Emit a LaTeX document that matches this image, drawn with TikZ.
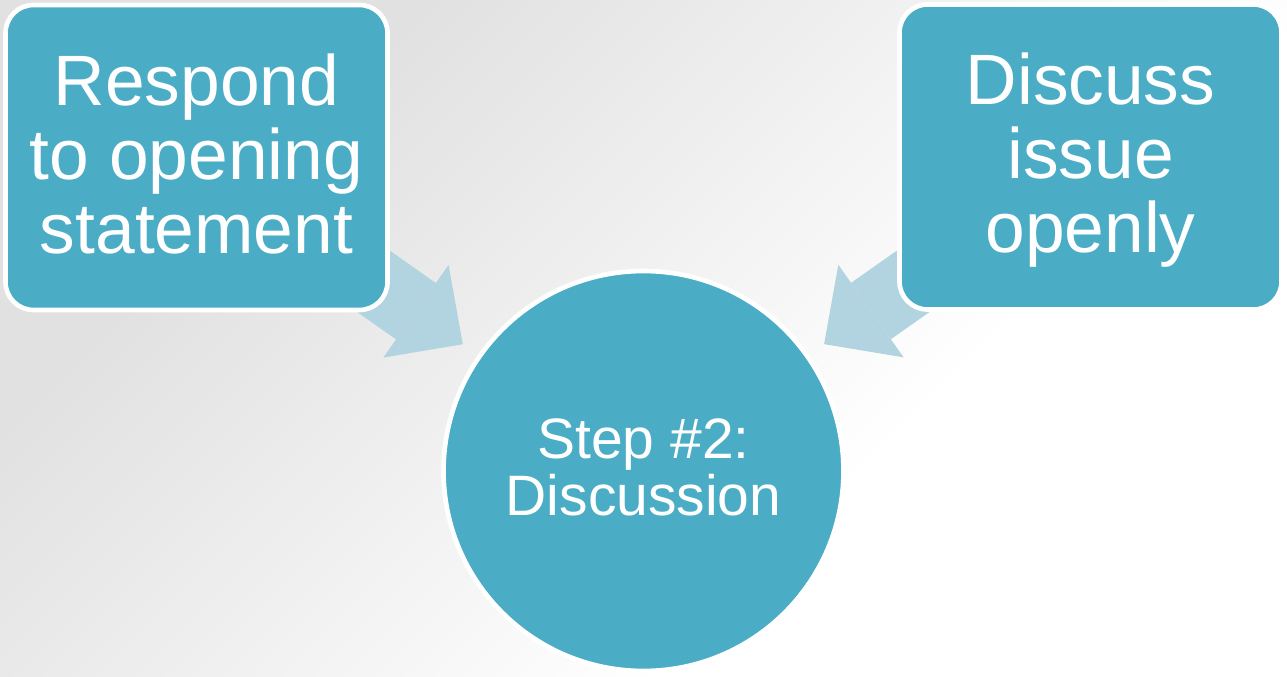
\documentclass[tikz,border=0pt]{standalone}
\usepackage{fontspec}
\setmainfont{Liberation Sans}
\usepackage{tikz}
\usetikzlibrary{shapes,arrows.meta}
\usepackage{xcolor}
\definecolor{boxblue}{RGB}{75,172,198}
\definecolor{arrowblue}{RGB}{177,212,224}
\definecolor{bggray}{RGB}{225,225,225}
\pgfdeclarehorizontalshading{bgfade}{100bp}{color(0bp)=(bggray); color(36bp)=(bggray); color(59bp)=(white); color(100bp)=(white)}
\tikzstyle{box} = [rectangle, draw=white, line width=3.5pt, fill=boxblue, text=white,
    rounded corners=21pt, minimum width=286.5pt, minimum height=228.75pt,
    align=center, text depth=6pt, font=\fontsize{53.5}{55.5}\selectfont]
\tikzstyle{hub} = [circle, draw=white, line width=3.5pt, fill=boxblue, text=white,
    minimum size=300pt, align=center, text depth=6pt, font=\fontsize{42.75}{42.5}\selectfont]
\tikzstyle{line} = [draw=arrowblue, line width=51.75pt,
    -{Triangle[length=43pt, width=85pt, line width=0pt]}, shorten >=13.8pt, shorten <=-30pt]
\pgfdeclarelayer{backdrop}
\pgfdeclarelayer{links}
\pgfsetlayers{backdrop,links,main}

\begin{document}
\begin{tikzpicture}[x=0.75pt, y=-0.75pt]
    \useasboundingbox (0,0) rectangle (1287,677);
    \begin{pgfonlayer}{backdrop}
    \clip (0,0) rectangle (1287,677);
    \fill [white] (0,0) rectangle (1287,677);
    \shade [shading=bgfade, shading angle=-45] (-56.5,-361.5) rectangle (1343.5,1038.5);
    \end{pgfonlayer}
    % Place nodes
    \node [box] (respond) at (196.5,157.5) {Respond\\to opening\\statement};
    \node [box] (discuss) at (1090.5,157) {Discuss\\issue\\openly};
    \node [hub] (step) at (643.5,471) {Step \#2:\\Discussion};

  \begin{pgfonlayer}{links}
  \path [line] (respond) -- (step);
  \path [line] (discuss) -- (step);
  \end{pgfonlayer}
\end{tikzpicture}
\end{document}
